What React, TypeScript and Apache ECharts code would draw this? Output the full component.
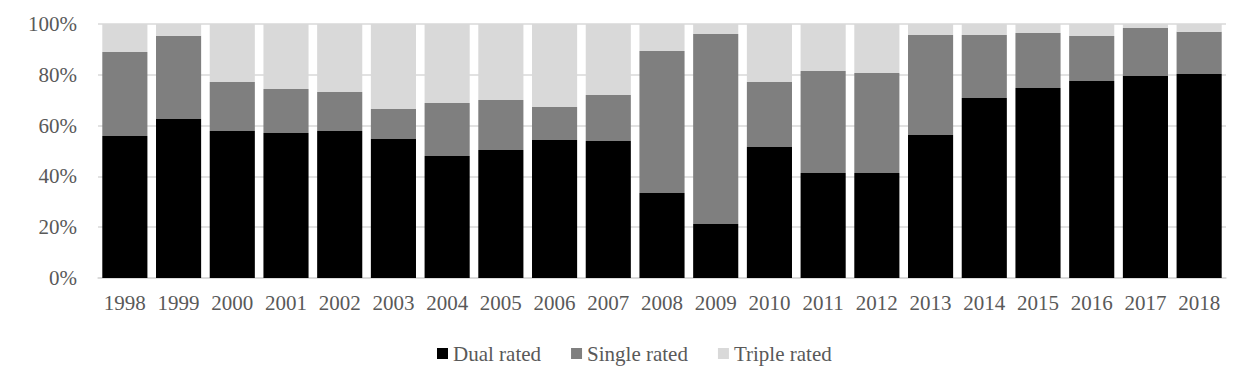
import React, { useEffect, useRef } from "react";
import * as echarts from "echarts";

const years = ["1998","1999","2000","2001","2002","2003","2004","2005","2006","2007","2008","2009","2010","2011","2012","2013","2014","2015","2016","2017","2018"];
// cumulative tops (percent)
const dualRated = [55.9, 62.6, 57.9, 57.1, 57.9, 54.7, 48.0, 50.4, 54.3, 53.9, 33.5, 21.3, 51.6, 41.3, 41.3, 56.3, 70.9, 74.8, 77.6, 79.5, 80.3];
const dualPlusSingle = [89.0, 95.4, 77.2, 74.4, 73.2, 66.5, 68.9, 70.1, 67.3, 72.0, 89.4, 96.1, 77.2, 81.5, 80.7, 95.7, 95.7, 96.5, 95.3, 98.4, 96.9];
const singleRated = dualPlusSingle.map((v, i) => +(v - dualRated[i]).toFixed(1));
const tripleRated = dualPlusSingle.map((v) => +(100 - v).toFixed(1));
const yTicks = [0, 20, 40, 60, 80, 100];

const FONT = "Liberation Serif";

export default function App() {
  const ref = useRef<HTMLDivElement>(null);
  useEffect(() => {
    document.body.style.margin = "0";
    const chart = echarts.init(ref.current!, null, { renderer: "svg" });
    chart.setOption({
      animation: false,
      backgroundColor: "#ffffff",
      textStyle: { fontFamily: FONT },
      grid: { left: 98, right: 29, top: 24, bottom: 107, containLabel: false },
      legend: {
        bottom: 16,
        left: 432,
        itemWidth: 11,
        itemHeight: 11,
        itemGap: 30,
        icon: "rect",
        textStyle: { fontFamily: FONT, fontSize: 21, color: "#595959" },
        data: ["Dual rated", "Single rated", "Triple rated"],
      },
      xAxis: {
        type: "category",
        data: years,
        axisLine: { lineStyle: { color: "#d9d9d9", width: 1.5 } },
        axisTick: { show: false },
        axisLabel: { color: "#595959", fontSize: 21, fontFamily: FONT, margin: 14, interval: 0 },
      },
      yAxis: {
        type: "value",
        min: yTicks[0],
        max: yTicks[yTicks.length - 1],
        interval: 20,
        axisLine: { show: false },
        axisTick: { show: false },
        splitLine: { lineStyle: { color: "#d9d9d9", width: 1.5 } },
        axisLabel: { color: "#595959", fontSize: 21, fontFamily: FONT, margin: 21, formatter: "{value}%" },
      },
      series: [
        { name: "Dual rated", type: "bar", stack: "s", data: dualRated, itemStyle: { color: "#000000" }, barCategoryGap: "16%" },
        { name: "Single rated", type: "bar", stack: "s", data: singleRated, itemStyle: { color: "#7f7f7f" } },
        { name: "Triple rated", type: "bar", stack: "s", data: tripleRated, itemStyle: { color: "#d9d9d9" } },
      ],
    });
    return () => chart.dispose();
  }, []);
  return <div ref={ref} style={{ width: 1255, height: 385 }} />;
}
